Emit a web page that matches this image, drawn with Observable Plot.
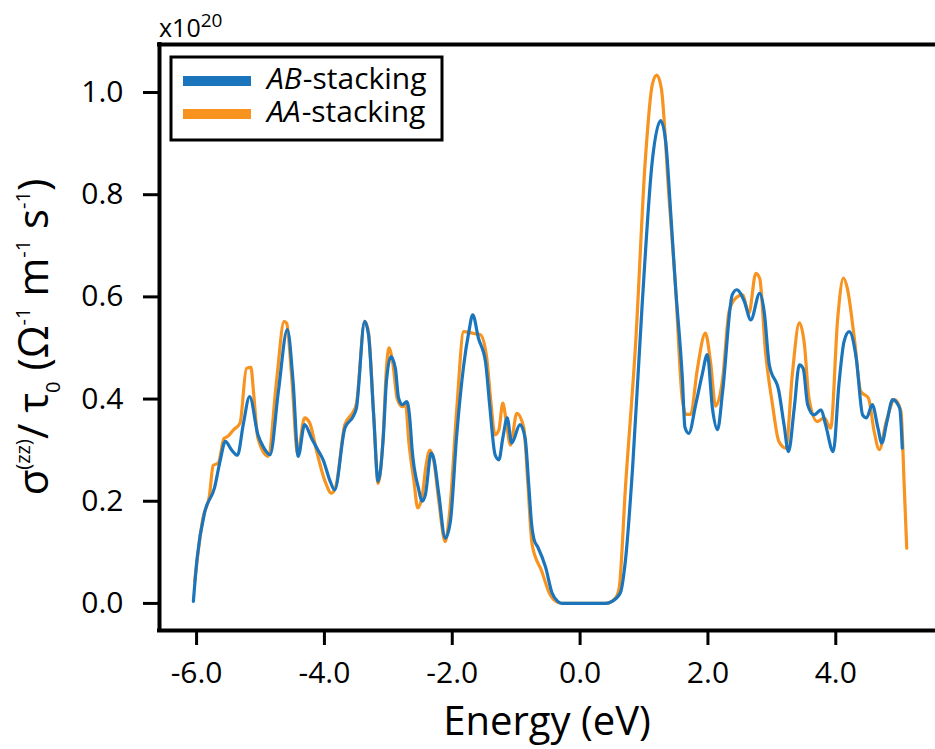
<!DOCTYPE html>
<html>
<head>
<meta charset="utf-8">
<script src="https://cdn.jsdelivr.net/npm/d3@7"></script>
<script src="https://cdn.jsdelivr.net/npm/@observablehq/plot@0.6"></script>
<style>
  html, body { margin: 0; padding: 0; background: #fff; overflow: hidden; }
  #chart svg { display: block; }
</style>
</head>
<body>
<div id="chart"></div>
<script>
// ---- Data ----
const seriesNames = ["AB-stacking", "AA-stacking"];
const seriesColors = ["#1a75bc", "#f7931e"];

const abEnergy = [
  -6.05,-5.99,-5.87,-5.72,-5.63,-5.55,-5.45,-5.36,-5.27,-5.17,
  -5.04,-4.95,-4.85,-4.72,-4.58,-4.49,-4.41,-4.31,-4.20,-4.10,
  -4.02,-3.91,-3.84,-3.68,-3.55,-3.50,-3.37,-3.31,-3.23,-3.16,
  -3.08,-3.03,-2.96,-2.89,-2.84,-2.78,-2.71,-2.66,-2.63,-2.53,
  -2.47,-2.42,-2.33,-2.29,-2.21,-2.11,-2.03,-1.93,-1.82,-1.74,
  -1.68,-1.59,-1.48,-1.41,-1.33,-1.27,-1.21,-1.14,-1.07,-0.94,
  -0.86,-0.80,-0.76,-0.72,-0.66,-0.54,-0.44,-0.35,-0.28,0.00,
  0.40,0.50,0.63,0.71,0.82,0.97,1.13,1.26,1.34,1.42,
  1.49,1.60,1.64,1.70,1.81,1.91,1.99,2.07,2.15,2.23,
  2.38,2.45,2.57,2.67,2.81,2.88,2.96,3.11,3.19,3.26,
  3.35,3.43,3.49,3.56,3.66,3.77,3.84,3.96,4.05,4.13,
  4.21,4.32,4.42,4.48,4.57,4.66,4.72,4.80,4.89,5.00,
  5.04
];
const abSigma = [
  0.004,0.09,0.18,0.226,0.28,0.317,0.30,0.29,0.35,0.405,
  0.33,0.305,0.291,0.415,0.536,0.434,0.288,0.35,0.323,0.30,
  0.281,0.239,0.222,0.343,0.366,0.382,0.552,0.526,0.369,0.239,
  0.323,0.434,0.483,0.46,0.402,0.389,0.395,0.356,0.304,0.226,
  0.2,0.213,0.294,0.284,0.213,0.128,0.16,0.33,0.467,0.532,
  0.565,0.519,0.473,0.382,0.291,0.281,0.323,0.363,0.314,0.35,
  0.323,0.226,0.157,0.125,0.11,0.071,0.021,0.004,0.0,0.0,
  0.0,0.004,0.021,0.085,0.263,0.583,0.867,0.945,0.903,0.76,
  0.625,0.44,0.345,0.333,0.39,0.448,0.487,0.382,0.34,0.415,
  0.604,0.614,0.591,0.555,0.607,0.571,0.467,0.415,0.35,0.297,
  0.382,0.467,0.46,0.389,0.369,0.379,0.35,0.297,0.43,0.513,
  0.532,0.48,0.369,0.363,0.389,0.343,0.314,0.356,0.399,0.382,
  0.304
];

const aaEnergy = [
  -6.03,-5.90,-5.80,-5.74,-5.66,-5.57,-5.51,-5.42,-5.32,-5.22,
  -5.15,-5.11,-5.04,-4.88,-4.75,-4.63,-4.59,-4.51,-4.42,-4.31,
  -4.23,-4.12,-3.99,-3.89,-3.82,-3.68,-3.55,-3.50,-3.37,-3.31,
  -3.23,-3.16,-3.08,-3.03,-2.99,-2.93,-2.86,-2.78,-2.73,-2.68,
  -2.60,-2.54,-2.47,-2.41,-2.35,-2.29,-2.21,-2.11,-2.04,-1.93,
  -1.82,-1.69,-1.56,-1.46,-1.40,-1.33,-1.27,-1.21,-1.16,-1.09,
  -0.99,-0.88,-0.82,-0.75,-0.60,-0.48,-0.35,-0.28,0.40,0.55,
  0.61,0.71,0.87,1.02,1.13,1.20,1.27,1.39,1.49,1.60,
  1.66,1.73,1.83,1.96,2.04,2.12,2.23,2.33,2.43,2.54,
  2.64,2.75,2.81,2.90,3.01,3.11,3.22,3.32,3.43,3.51,
  3.58,3.71,3.82,3.92,4.03,4.12,4.18,4.29,4.39,4.51,
  4.60,4.68,4.79,4.92,5.02,5.07,5.11
];
const aaSigma = [
  0.043,0.167,0.21,0.27,0.275,0.323,0.327,0.34,0.353,0.46,
  0.462,0.415,0.323,0.288,0.434,0.552,0.548,0.44,0.294,0.363,
  0.353,0.297,0.239,0.216,0.23,0.35,0.375,0.39,0.552,0.53,
  0.37,0.235,0.33,0.46,0.5,0.47,0.40,0.385,0.39,0.317,
  0.24,0.187,0.21,0.27,0.30,0.28,0.20,0.121,0.18,0.38,
  0.532,0.529,0.526,0.48,0.40,0.33,0.34,0.392,0.36,0.31,
  0.372,0.343,0.24,0.115,0.063,0.02,0.002,0.0,0.0,0.01,
  0.029,0.228,0.512,0.867,1.016,1.034,1.009,0.796,0.625,0.398,
  0.37,0.37,0.455,0.529,0.473,0.386,0.44,0.571,0.597,0.604,
  0.568,0.646,0.636,0.493,0.389,0.317,0.304,0.448,0.549,0.506,
  0.402,0.356,0.363,0.343,0.558,0.637,0.617,0.519,0.415,0.402,
  0.337,0.301,0.356,0.399,0.376,0.232,0.108
];

const xTicks = [-6, -4, -2, 0, 2, 4];
const yTicks = [0, 0.2, 0.4, 0.6, 0.8, 1.0];
const xDomain = [-6.58, 5.56];
const yDomain = [-0.053, 1.094];
const xLabel = "Energy (eV)";
const scaleNote = {base: "x10", exp: "20"};

// ---- Build ----
const ab = abEnergy.map((e, i) => ({e, s: abSigma[i]}));
const aa = aaEnergy.map((e, i) => ({e, s: aaSigma[i]}));
const FONT = "'Open Sans', 'Noto Sans', sans-serif";
const fmt = d => d.toFixed(1);

const W = 935, H = 749;
const mL = 159, mT = 44, mB = 119, mR = 0;

const plot = Plot.plot({
  width: W, height: H,
  marginLeft: mL, marginRight: mR, marginTop: mT, marginBottom: mB,
  style: {fontFamily: FONT, fontSize: "30px", color: "#000", background: "#fff", overflow: "visible"},
  x: {domain: xDomain},
  y: {domain: yDomain},
  marks: [
    Plot.line(aa, {x: "e", y: "s", stroke: seriesColors[1], strokeWidth: 3.2, curve: "monotone-x"}),
    Plot.line(ab, {x: "e", y: "s", stroke: seriesColors[0], strokeWidth: 3.2, curve: "monotone-x"}),
    Plot.ruleY([yDomain[1]], {stroke: "#000", strokeWidth: 4, strokeLinecap: "square"}),
    Plot.ruleY([yDomain[0]], {stroke: "#000", strokeWidth: 4, strokeLinecap: "square"}),
    Plot.ruleX([xDomain[0]], {stroke: "#000", strokeWidth: 4, strokeLinecap: "square"}),
    Plot.axisX({ticks: xTicks, tickFormat: fmt, tickSize: 15, tickPadding: 16, strokeWidth: 3, label: null, fontSize: 30}),
    Plot.axisY({ticks: yTicks, tickFormat: fmt, tickSize: 16, tickPadding: 20, strokeWidth: 3, label: null, fontSize: 30})
  ]
});
document.getElementById("chart").appendChild(plot);

const svg = d3.select(plot);
const plotCenterX = (mL + (W - mR)) / 2;

// X label
svg.append("text")
  .attr("x", plotCenterX).attr("y", 735)
  .attr("text-anchor", "middle")
  .attr("font-family", FONT).attr("font-size", 40).attr("fill", "#000")
  .text(xLabel);

// Y label (rotated, with sup/subscripts)
const yl = svg.append("text")
  .attr("transform", `translate(48,${(mT + (H - mB)) / 2}) rotate(-90)`)
  .attr("text-anchor", "middle")
  .attr("font-family", FONT).attr("font-size", 42).attr("fill", "#000");
const parts = [
  ["σ", 0], ["(zz)", -1], ["/ τ", 0], ["0", 1], [" (Ω", 0], ["-1", -1],
  [" m", 0], ["-1", -1], [" s", 0], ["-1", -1], [")", 0]
];
let shift = 0;
for (const [t, k] of parts) {
  const target = k === -1 ? -18 : k === 1 ? 12 : 0;
  yl.append("tspan")
    .attr("dy", target - shift)
    .attr("font-size", k === 0 ? 42 : 20)
    .text(t);
  shift = target;
}

// Scale note x10^20
const sn = svg.append("text")
  .attr("x", mL).attr("y", 37)
  .attr("text-anchor", "start")
  .attr("font-family", FONT).attr("font-size", 25).attr("fill", "#000");
sn.append("tspan").text(scaleNote.base);
sn.append("tspan").attr("dy", -10).attr("font-size", 19).text(scaleNote.exp);

// Legend
const lg = svg.append("g");
lg.append("rect")
  .attr("x", 171).attr("y", 57).attr("width", 271).attr("height", 83)
  .attr("fill", "#fff").attr("stroke", "#000").attr("stroke-width", 3);
seriesNames.forEach((name, i) => {
  const cy = 81 + i * 33;
  lg.append("line")
    .attr("x1", 183).attr("x2", 251).attr("y1", cy).attr("y2", cy)
    .attr("stroke", seriesColors[i]).attr("stroke-width", 10);
  const [head, ...rest] = name.split("-");
  const t = lg.append("text")
    .attr("x", 267).attr("y", cy + 8)
    .attr("text-anchor", "start")
    .attr("font-family", FONT).attr("font-size", 30).attr("fill", "#000");
  t.append("tspan").attr("font-style", "italic").text(head);
  t.append("tspan").attr("dx", 1).text("-" + rest.join("-"));
});
</script>
</body>
</html>
